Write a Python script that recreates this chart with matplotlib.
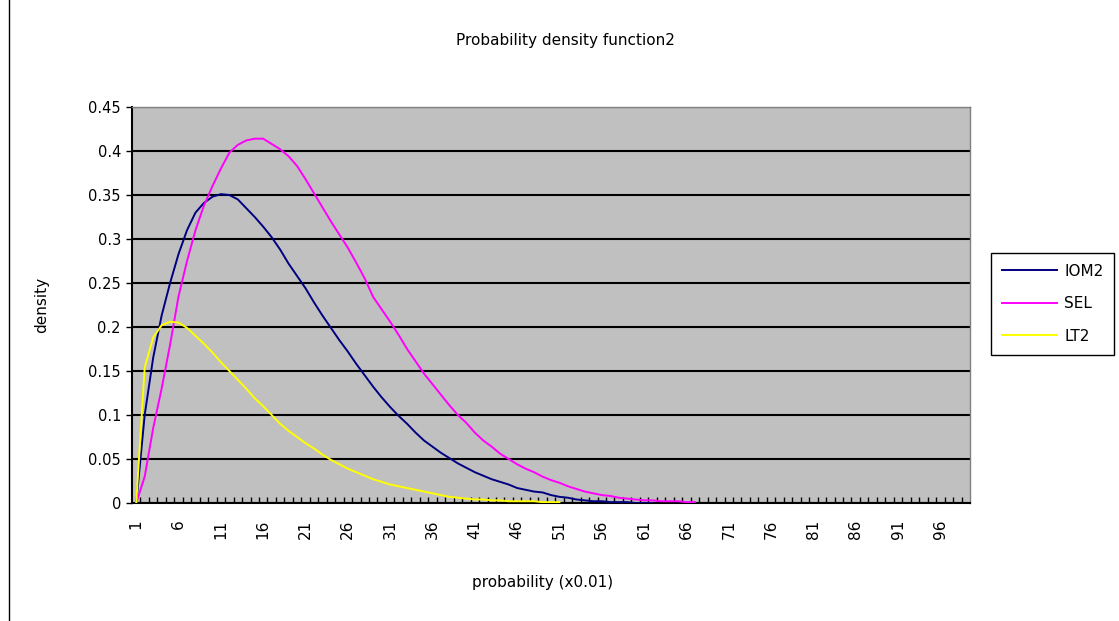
import matplotlib.pyplot as plt
from matplotlib.lines import Line2D
import numpy as np

# categories on the x axis (probability x0.01)
categories = list(range(1, 100))

iom2 = [0.000, 0.100, 0.165, 0.213, 0.250, 0.283, 0.310, 0.330, 0.341, 0.348,
        0.351, 0.350, 0.345, 0.335, 0.325, 0.314, 0.302, 0.288, 0.272, 0.258,
        0.244, 0.228, 0.213, 0.199, 0.185, 0.172, 0.158, 0.145, 0.132, 0.120,
        0.109, 0.099, 0.090, 0.080, 0.071, 0.064, 0.057, 0.051, 0.045, 0.040,
        0.035, 0.031, 0.027, 0.024, 0.021, 0.017, 0.015, 0.013, 0.012, 0.009,
        0.007, 0.006, 0.004, 0.003, 0.002, 0.002, 0.001, 0.001, 0.001, 0.000,
        0.000, 0.000]

sel = [0.000, 0.030, 0.085, 0.130, 0.180, 0.235, 0.275, 0.310, 0.338, 0.360,
       0.380, 0.398, 0.407, 0.412, 0.414, 0.414, 0.408, 0.402, 0.394, 0.383,
       0.368, 0.352, 0.336, 0.320, 0.305, 0.290, 0.273, 0.255, 0.234, 0.220,
       0.206, 0.191, 0.175, 0.161, 0.147, 0.135, 0.123, 0.111, 0.100, 0.091,
       0.080, 0.071, 0.064, 0.056, 0.050, 0.044, 0.039, 0.035, 0.030, 0.026,
       0.023, 0.019, 0.016, 0.013, 0.011, 0.009, 0.008, 0.006, 0.005, 0.004,
       0.003, 0.003, 0.002, 0.002, 0.002, 0.001, 0.001]

lt2 = [0.000, 0.154, 0.188, 0.202, 0.206, 0.205, 0.199, 0.190, 0.181, 0.171,
       0.160, 0.150, 0.140, 0.130, 0.119, 0.110, 0.100, 0.090, 0.082, 0.075,
       0.068, 0.062, 0.055, 0.049, 0.044, 0.039, 0.035, 0.031, 0.027, 0.024,
       0.021, 0.019, 0.017, 0.015, 0.013, 0.011, 0.009, 0.007, 0.006, 0.005,
       0.004, 0.004, 0.003, 0.003, 0.002, 0.002, 0.002, 0.002, 0.001, 0.001,
       0.001]

series = [("IOM2", iom2, "#000080"), ("SEL", sel, "#FF00FF"), ("LT2", lt2, "#FFFF00")]

y_ticks = [0, 0.05, 0.1, 0.15, 0.2, 0.25, 0.3, 0.35, 0.4, 0.45]
y_labels = ["0", "0.05", "0.1", "0.15", "0.2", "0.25", "0.3", "0.35", "0.4", "0.45"]

plt.rcParams['font.family'] = ['DejaVu Sans']

fig = plt.figure(figsize=(11.19, 6.21), dpi=100)
# chart area border (left edge only shows)
fig.lines.append(Line2D([8.5 / 1119, 8.5 / 1119], [0, 1], transform=fig.transFigure,
                        color="black", linewidth=1))

ax = fig.add_axes([132 / 1119, 1 - 503 / 621, 838 / 1119, 396 / 621])
ax.set_facecolor("#C0C0C0")

for name, vals, color in series:
    x = categories[:len(vals)]
    ax.plot(x, vals, color=color, linewidth=1.4, label=name, zorder=3)

ax.set_xlim(0.5, len(categories) + 0.5)
ax.set_ylim(0, 0.45)

ax.set_yticks(y_ticks)
ax.set_yticklabels(y_labels, fontsize=10.5)
ax.yaxis.grid(True, color="black", linewidth=1.5)
ax.set_axisbelow(True)

# category labels every 5, tick marks between categories
ax.set_xticks(categories[::5])
ax.set_xticklabels([str(c) for c in categories[::5]], rotation=90, fontsize=11)
ax.tick_params(axis="x", which="major", length=0, pad=12)
ax.set_xticks(np.arange(1.5, len(categories), 1.0), minor=True)
ax.tick_params(axis="x", which="minor", direction="in", length=4, width=1, color="black")
ax.tick_params(axis="y", direction="out", length=4, width=1, pad=4)

for side in ("left", "bottom"):
    ax.spines[side].set_color("black")
    ax.spines[side].set_linewidth(1.5)
for side in ("top", "right"):
    ax.spines[side].set_color("#808080")
    ax.spines[side].set_linewidth(1)

ax.set_xlabel("probability (x0.01)", fontsize=11, labelpad=26)
ax.xaxis.label.set_x(0.4905)
ax.set_ylabel("density", fontsize=11, labelpad=28)
fig.text(565 / 1119, 1 - 40 / 621, "Probability density function2",
         ha="center", va="center", fontsize=11)

leg = fig.legend(loc="upper left", bbox_to_anchor=(991 / 1119, 1 - 253 / 621),
                 frameon=True, fancybox=False, edgecolor="black", framealpha=1,
                 fontsize=11, handlelength=3.6, handletextpad=0.5,
                 borderaxespad=0, labelspacing=1.15, borderpad=0.7)
leg.get_frame().set_linewidth(1)

fig.savefig("out.png", dpi=100)
